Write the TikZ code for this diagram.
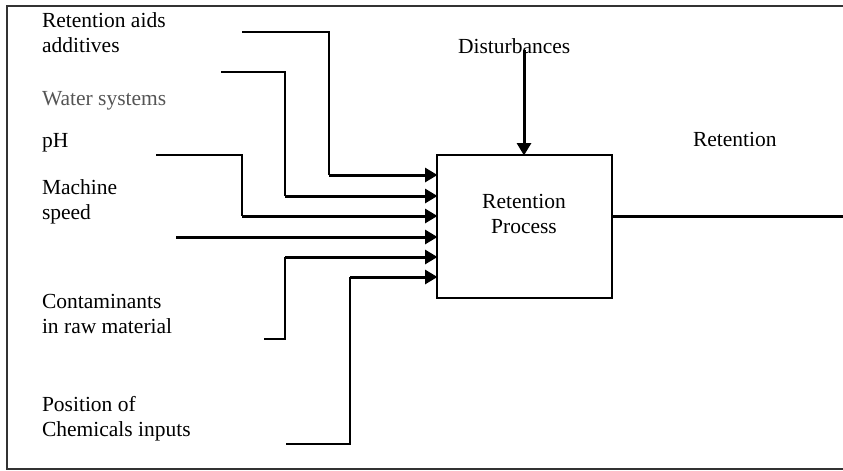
\documentclass[tikz,border=0pt]{standalone}
\usepackage{fontspec}
\setmainfont{Liberation Serif}
\usetikzlibrary{arrows.meta}
\definecolor{framegray}{HTML}{333333}
\definecolor{labelgray}{HTML}{555555}
\begin{document}
\begin{tikzpicture}[x=1pt,y=-1pt,
  every node/.style={inner sep=0pt, outer sep=0pt},
  % multi-line labels are anchored at the baseline of their last line
  lbl/.style={anchor=base west, align=left, font=\fontsize{21.5}{24.5}\selectfont},
  procbox/.style={draw, line width=1.2pt, minimum width=175pt, minimum height=143pt},
  feed/.style={line width=1.2pt},
  inarrow/.style={line width=3pt, -{Triangle[length=12.5pt,width=14pt]}, shorten >=-0.5pt},
  outline/.style={line width=3pt}
]
\useasboundingbox (0,0) rectangle (843,471);
% outer frame (open to the right edge)
\draw[framegray, line width=2.5pt] (850,6) -- (7,6) -- (7,469) -- (850,469);

% process block
\node[procbox] (box) at (524.5,226.5) {};
\node[anchor=base, align=center, font=\fontsize{21.5}{25}\selectfont] (boxtxt) at (524,233) {Retention\\Process};

% input labels
\node[lbl] (lretention) at (42,52) {Retention aids\\additives};
\node[lbl, text=labelgray] (lwater) at (42,105) {Water systems};
\node[lbl] (lph) at (42,147) {pH};
\node[lbl] (lspeed) at (42,219) {Machine\\speed};
\node[lbl] (lcont) at (42,333) {Contaminants\\in raw material};
\node[lbl] (lpos) at (42,436) {Position of\\Chemicals inputs};
\node[lbl] (ldist) at (458,53) {Disturbances};
\node[lbl] (lout) at (693,146) {Retention};

% feed line start points and bends
\coordinate (a1) at (242,32);  \coordinate (b1) at (329,175);
\coordinate (a2) at (221,72);  \coordinate (b2) at (285,196);
\coordinate (a3) at (156,155); \coordinate (b3) at (242,216);
\coordinate (a4) at (176,237);
\coordinate (a5) at (264,339); \coordinate (b5) at (285,257);
\coordinate (a6) at (286,444); \coordinate (b6) at (350,277);
\coordinate (d0) at (524,50);
\coordinate (o1) at (850,216);

\draw[feed] (a1) -| (b1);
\draw[feed] (a2) -| (b2);
\draw[feed] (a3) -| (b3);
\draw[feed] (a5) -| (b5);
\draw[feed] (a6) -| (b6);

\draw[inarrow] (b1) -- (b1 -| box.west);
\draw[inarrow] (b2) -- (b2 -| box.west);
\draw[inarrow] (b3) -- (b3 -| box.west);
\draw[inarrow] (a4) -- (a4 -| box.west);
\draw[inarrow] (b5) -- (b5 -| box.west);
\draw[inarrow] (b6) -- (b6 -| box.west);

% disturbance and output
\draw[inarrow] (d0) -- (d0 |- box.north);
\draw[outline] (o1 -| box.east) -- (o1);
\end{tikzpicture}
\end{document}
